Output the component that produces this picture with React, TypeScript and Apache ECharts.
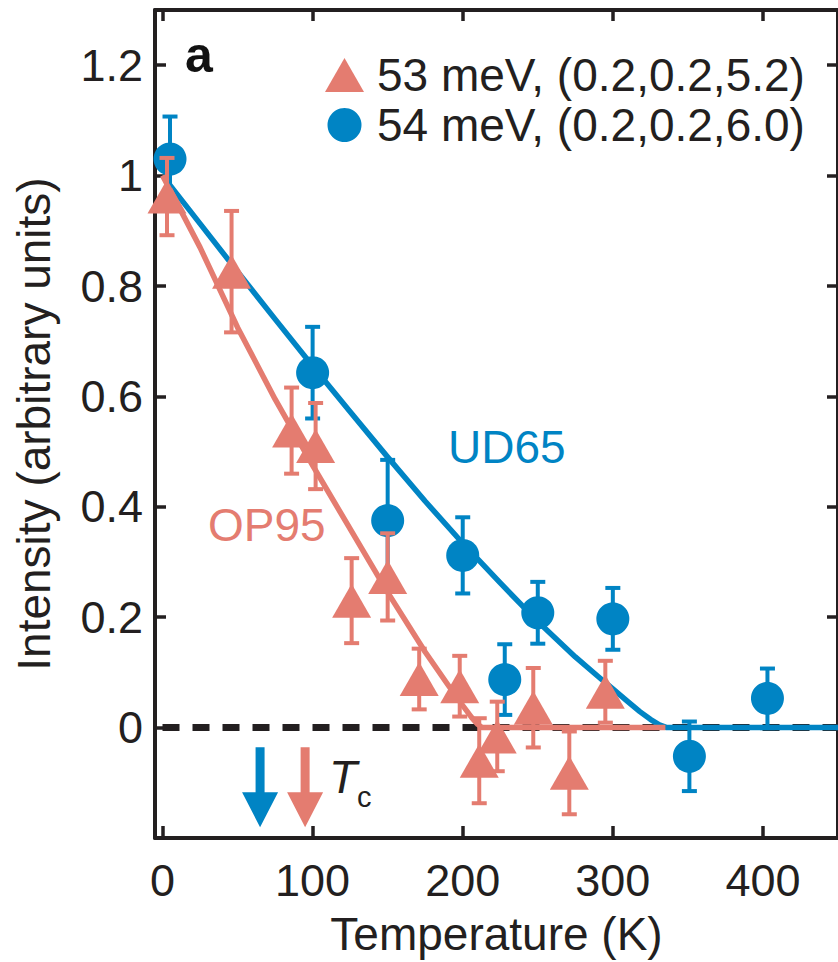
import React, { useEffect, useRef } from "react";
import * as echarts from "echarts";

const FONT = '"Liberation Sans", Arial, Helvetica, sans-serif';
const INK = "#231f20";
const BLUE = "#0084c4";
const RED = "#e47c70";

const xTicks = [0, 100, 200, 300, 400];
const yTicks = [0, 0.2, 0.4, 0.6, 0.8, 1, 1.2];

const ud65Name = "54 meV, (0.2,0.2,6.0)";
const op95Name = "53 meV, (0.2,0.2,5.2)";

const ud65Temp = [5, 100, 150, 200, 228, 250, 300, 351, 403];
const ud65Int = [1.03, 0.643, 0.375, 0.312, 0.087, 0.208, 0.197, -0.052, 0.053];
const ud65Err = [0.077, 0.083, 0.11, 0.069, 0.064, 0.056, 0.056, 0.063, 0.054];

const op95Temp = [3, 46, 86, 102, 126, 150, 171, 198, 211, 223, 247, 271, 295];
const op95Int = [0.962, 0.826, 0.538, 0.51, 0.23, 0.273, 0.088, 0.075, -0.06, -0.016, 0.036, -0.082, 0.065];
const op95Err = [0.07, 0.11, 0.078, 0.078, 0.077, 0.079, 0.055, 0.055, 0.077, 0.063, 0.072, 0.075, 0.056];

const ud65FitTemp = [0, 25, 50, 75, 100, 125, 150, 175, 200, 225, 250, 275, 290, 300, 310, 318, 325, 331, 336, 450];
const ud65FitInt = [1.0, 0.913, 0.826, 0.74, 0.655, 0.572, 0.49, 0.41, 0.334, 0.262, 0.192, 0.128, 0.093, 0.07, 0.047, 0.029, 0.015, 0.005, 0, 0];
const op95FitTemp = [0, 25, 50, 75, 100, 125, 150, 175, 190, 200, 206, 210, 213, 335];
const op95FitInt = [1.0, 0.87, 0.725, 0.595, 0.475, 0.36, 0.245, 0.137, 0.078, 0.04, 0.018, 0.006, 0, 0];

const zeroLineTemp = [0, 450];
const tcTemp = [65, 95];
const tcLevel = -0.108;

const zip2 = (a: number[], b: number[]) => a.map((v, i) => [v, b[i]]);
const zip3 = (a: number[], b: number[], c: number[]) => a.map((v, i) => [v, b[i], c[i]]);

const errorBars = (color: string) => (params: any, api: any) => {
  const x = api.value(0);
  const y = api.value(1);
  const e = api.value(2);
  const top = api.coord([x, y + e]);
  const bot = api.coord([x, y - e]);
  const hw = 7.5;
  const style = { stroke: color, lineWidth: 4 };
  return {
    type: "group",
    children: [
      { type: "line", shape: { x1: top[0], y1: top[1], x2: bot[0], y2: bot[1] }, style },
      { type: "line", shape: { x1: top[0] - hw, y1: top[1], x2: top[0] + hw, y2: top[1] }, style },
      { type: "line", shape: { x1: bot[0] - hw, y1: bot[1], x2: bot[0] + hw, y2: bot[1] }, style },
    ],
  };
};

const ARROW = "path://M13.5,0 L22.5,0 L22.5,45 L36,45 L18,80 L0,45 L13.5,45 Z";

export default function App() {
  const ref = useRef<HTMLDivElement>(null);
  useEffect(() => {
    if (!ref.current) return;
    const chart = echarts.init(ref.current, undefined, { renderer: "svg" });
    const axisLine = { show: true, onZero: false, lineStyle: { color: INK, width: 4 } };
    const option: any = {
      animation: false,
      backgroundColor: "#ffffff",
      textStyle: { fontFamily: FONT },
      grid: { left: 155, top: 10, right: -4, bottom: 123, containLabel: false },
      legend: {
        orient: "vertical",
        left: 320,
        top: 47,
        itemWidth: 39,
        itemHeight: 34,
        itemGap: 4,
        data: [
          { name: op95Name, icon: "triangle", itemStyle: { color: RED } },
          { name: ud65Name, icon: "circle", itemStyle: { color: BLUE } },
        ],
        textStyle: { fontFamily: FONT, fontSize: 46, color: INK, padding: [0, 0, 0, 8] },
        selectedMode: false,
      },
      xAxis: [
        {
          type: "value",
          min: -5,
          max: 450,
          position: "bottom",
          name: "Temperature (K)",
          nameLocation: "middle",
          nameGap: 73,
          nameTextStyle: { fontFamily: FONT, fontSize: 46, color: INK },
          axisLine,
          axisTick: { show: true, inside: true, length: 12, customValues: xTicks, lineStyle: { color: INK, width: 3.5 } },
          axisLabel: { show: true, customValues: xTicks, margin: 20, fontFamily: FONT, fontSize: 45, color: INK, formatter: (v: number) => String(v) },
          splitLine: { show: false },
        },
        {
          type: "value",
          min: -5,
          max: 450,
          position: "top",
          axisLine,
          axisTick: { show: true, inside: true, length: 11, customValues: xTicks, lineStyle: { color: INK, width: 3.5 } },
          axisLabel: { show: false },
          splitLine: { show: false },
        },
      ],
      yAxis: [
        {
          type: "value",
          min: -0.2,
          max: 1.3,
          position: "left",
          name: "Intensity (arbitrary units)",
          nameLocation: "middle",
          nameGap: 98,
          nameTextStyle: { fontFamily: FONT, fontSize: 46, color: INK },
          axisLine,
          axisTick: { show: true, inside: true, length: 11, customValues: yTicks, lineStyle: { color: INK, width: 3.5 } },
          axisLabel: { show: true, customValues: yTicks, margin: 12, fontFamily: FONT, fontSize: 45, color: INK, formatter: (v: number) => String(v) },
          splitLine: { show: false },
        },
        {
          type: "value",
          min: -0.2,
          max: 1.3,
          position: "right",
          axisLine,
          axisTick: { show: true, inside: true, length: 11, customValues: yTicks, lineStyle: { color: INK, width: 3.5 } },
          axisLabel: { show: false },
          splitLine: { show: false },
        },
      ],
      graphic: [
        { type: "text", x: 185, y: 55, style: { text: "a", font: `bold 50px ${FONT}`, fill: "#111", textAlign: "left", textVerticalAlign: "middle" } },
        { type: "text", x: 448, y: 447, style: { text: "UD65", font: `46px ${FONT}`, fill: BLUE, textAlign: "left", textVerticalAlign: "middle" } },
        { type: "text", x: 208, y: 525, style: { text: "OP95", font: `46px ${FONT}`, fill: RED, textAlign: "left", textVerticalAlign: "middle" } },
        { type: "text", x: 329, y: 777, style: { text: "T", font: `italic 46px ${FONT}`, fill: INK, textAlign: "left", textVerticalAlign: "middle" } },
        { type: "text", x: 357, y: 797, style: { text: "c", font: `29px ${FONT}`, fill: INK, textAlign: "left", textVerticalAlign: "middle" } },
      ],
      series: [
        {
          type: "line",
          name: "zero",
          data: zip2(zeroLineTemp, [0, 0]),
          symbol: "none",
          z: 1,
          lineStyle: { color: INK, width: 7, type: [17, 13] },
          silent: true,
        },
        {
          type: "line",
          name: "UD65 fit",
          data: zip2(ud65FitTemp, ud65FitInt),
          symbol: "none",
          smooth: false,
          z: 2,
          lineStyle: { color: BLUE, width: 5.5, join: "round" },
        },
        {
          type: "line",
          name: "OP95 fit",
          data: zip2(op95FitTemp, op95FitInt),
          symbol: "none",
          smooth: false,
          z: 3,
          lineStyle: { color: RED, width: 5.5, join: "round" },
        },
        {
          type: "custom",
          name: "UD65 err",
          data: zip3(ud65Temp, ud65Int, ud65Err),
          encode: { x: 0, y: 1 },
          renderItem: errorBars(BLUE),
          z: 4,
        },
        {
          type: "scatter",
          name: ud65Name,
          data: zip2(ud65Temp, ud65Int),
          symbol: "circle",
          symbolSize: 33,
          itemStyle: { color: BLUE, opacity: 1 },
          z: 5,
        },
        {
          type: "custom",
          name: "OP95 err",
          data: zip3(op95Temp, op95Int, op95Err),
          encode: { x: 0, y: 1 },
          renderItem: errorBars(RED),
          z: 6,
        },
        {
          type: "scatter",
          name: op95Name,
          data: zip2(op95Temp, op95Int),
          symbol: "triangle",
          symbolSize: [39, 34],
          itemStyle: { color: RED, opacity: 1 },
          z: 7,
        },
        {
          type: "scatter",
          name: "Tc",
          data: [
            { value: [tcTemp[0], tcLevel], itemStyle: { color: BLUE, opacity: 1 } },
            { value: [tcTemp[1], tcLevel], itemStyle: { color: RED, opacity: 1 } },
          ],
          symbol: ARROW,
          symbolSize: [36, 80],
          itemStyle: { opacity: 1 },
          z: 8,
          silent: true,
        },
      ],
    };
    chart.setOption(option);
    return () => chart.dispose();
  }, []);
  return <div ref={ref} style={{ position: "fixed", left: 0, top: 0, width: 838, height: 962 }} />;
}
